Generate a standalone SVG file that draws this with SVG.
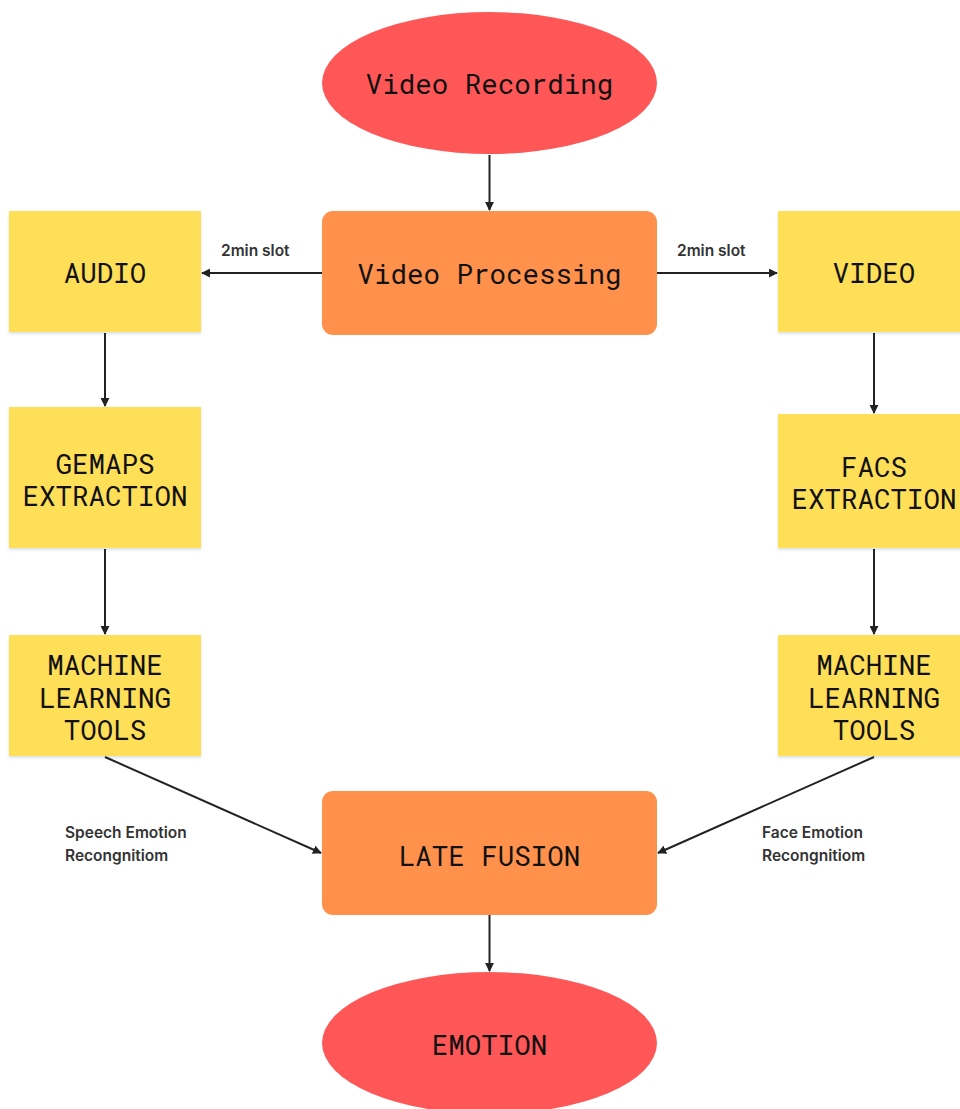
<svg xmlns="http://www.w3.org/2000/svg" width="960" height="1109" viewBox="0 0 960 1109">
<defs>
<marker id="ah" viewBox="0 0 10 10" refX="9" refY="5" markerWidth="4.5" markerHeight="4.5" orient="auto-start-reverse">
<path d="M0,0 L10,5 L0,10 z" fill="#222"/>
</marker>
<filter id="sh" x="-5%" y="-5%" width="110%" height="115%">
<feDropShadow dx="0" dy="2" stdDeviation="1.5" flood-color="#000" flood-opacity="0.12"/>
</filter>
</defs>
<style>
.t{font-family:"Roboto Mono","DejaVu Sans Mono","Liberation Mono",monospace;font-size:27.5px;fill:#111;text-anchor:middle}
.l{font-family:"Inter","Noto Sans","Liberation Sans",sans-serif;font-size:15.5px;font-weight:600;fill:#333}
.red{fill:#FF5757}
.or{fill:#FF914D}
.ye{fill:#FFDE59}
.c{stroke:#222;stroke-width:2;fill:none;marker-end:url(#ah)}
</style>
<rect width="960" height="1109" fill="#fff"/>
<g id="video-recording">
<ellipse class="red" cx="489.5" cy="83" rx="167.5" ry="71"/>
<text class="t" x="489.5" y="94">Video Recording</text>
</g>
<g id="video-processing">
<rect class="or" x="322" y="211" width="335" height="124" rx="11"/>
<text class="t" x="489.5" y="284">Video Processing</text>
</g>
<g id="audio">
<rect class="ye" x="9" y="211" width="192" height="121" filter="url(#sh)"/>
<text class="t" x="105" y="283">AUDIO</text>
</g>
<g id="video">
<rect class="ye" x="778" y="211" width="190" height="121" filter="url(#sh)"/>
<text class="t" x="874" y="283">VIDEO</text>
</g>
<g id="gemaps">
<rect class="ye" x="9" y="407" width="192" height="141" filter="url(#sh)"/>
<text class="t" x="105" y="474">GEMAPS</text>
<text class="t" x="105" y="506">EXTRACTION</text>
</g>
<g id="facs">
<rect class="ye" x="778" y="414" width="190" height="134" filter="url(#sh)"/>
<text class="t" x="874" y="477">FACS</text>
<text class="t" x="874" y="509">EXTRACTION</text>
</g>
<g id="ml-left">
<rect class="ye" x="9" y="635" width="192" height="121" filter="url(#sh)"/>
<text class="t" x="105" y="675">MACHINE</text>
<text class="t" x="105" y="708">LEARNING</text>
<text class="t" x="105" y="740">TOOLS</text>
</g>
<g id="ml-right">
<rect class="ye" x="778" y="635" width="190" height="121" filter="url(#sh)"/>
<text class="t" x="874" y="675">MACHINE</text>
<text class="t" x="874" y="708">LEARNING</text>
<text class="t" x="874" y="740">TOOLS</text>
</g>
<g id="late-fusion">
<rect class="or" x="322" y="791" width="335" height="124" rx="11"/>
<text class="t" x="489.5" y="866">LATE FUSION</text>
</g>
<g id="emotion">
<ellipse class="red" cx="489.5" cy="1043" rx="167.5" ry="71"/>
<text class="t" x="489.5" y="1055">EMOTION</text>
</g>
<g id="connectors">
<line class="c" x1="489.5" y1="155" x2="489.5" y2="210"/>
<line class="c" x1="322" y1="273" x2="202" y2="273"/>
<line class="c" x1="657" y1="273" x2="777" y2="273"/>
<line class="c" x1="105" y1="333" x2="105" y2="406"/>
<line class="c" x1="874" y1="333" x2="874" y2="413"/>
<line class="c" x1="105" y1="549" x2="105" y2="634"/>
<line class="c" x1="874" y1="549" x2="874" y2="634"/>
<line class="c" x1="105" y1="757" x2="321" y2="853"/>
<line class="c" x1="874" y1="757" x2="658" y2="853"/>
<line class="c" x1="489.5" y1="915" x2="489.5" y2="971"/>
<text class="l" x="221" y="256">2min slot</text>
<text class="l" x="677" y="256">2min slot</text>
<text class="l" x="65" y="838">Speech Emotion</text>
<text class="l" x="65" y="861">Recongnitiom</text>
<text class="l" x="762" y="838">Face Emotion</text>
<text class="l" x="762" y="861">Recongnitiom</text>
</g>
</svg>
